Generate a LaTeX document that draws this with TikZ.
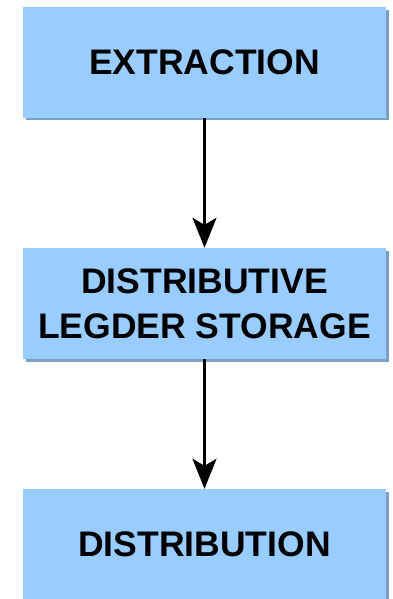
\documentclass[tikz,border=0pt]{standalone}
\usepackage{fontspec}
\setmainfont{Liberation Sans}
\usetikzlibrary{arrows.meta}
\definecolor{boxblue}{HTML}{99CCFF}
\definecolor{shadowblue}{HTML}{7C9FC4}
\tikzset{
  stagebox/.style={rectangle, fill=boxblue, draw=none, minimum width=363pt, minimum height=111pt,
    inner sep=0pt, align=center, font=\fontsize{35.5}{45}\selectfont\bfseries},
  flow/.style={line width=2.6pt, -{Stealth[length=30pt,width=24pt,inset=7pt]}}
}
\begin{document}
\begin{tikzpicture}[x=1pt,y=-1pt]
\useasboundingbox (0,0) rectangle (393,599);
\fill[white] (0,0) rectangle (393,599);
% shadows
\fill[shadowblue] (26,10) rectangle (389,120);
\fill[shadowblue] (26,251) rectangle (389,362);
\fill[shadowblue] (26,492) rectangle (389,603);
\node[stagebox] (b1) at (204.5,62.5) {EXTRACTION};
\node[stagebox] (b2) at (204.5,303.5) {DISTRIBUTIVE\\LEGDER STORAGE};
\node[stagebox] (b3) at (204.5,544.5) {DISTRIBUTION};
\draw[flow] (b1.south) -- (b2.north);
\draw[flow] (b2.south) -- (b3.north);
\end{tikzpicture}
\end{document}
